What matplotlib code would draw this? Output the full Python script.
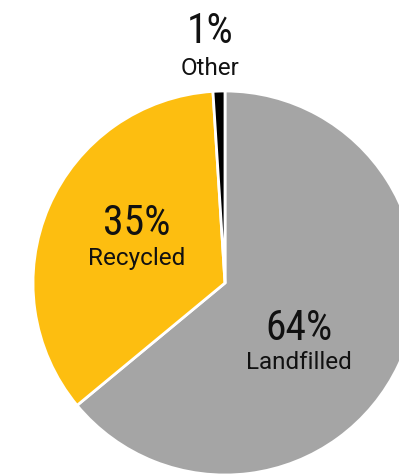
import matplotlib
matplotlib.use("Agg")
import matplotlib.pyplot as plt
from matplotlib import font_manager as fm

# Share of waste by destination
categories = ["Landfilled", "Recycled", "Other"]
shares = [64, 35, 1]
colors = ["#A5A5A5", "#FDBE10", "#000000"]

W, H, DPI = 399, 477, 100
fig = plt.figure(figsize=(W / DPI, H / DPI), dpi=DPI)

# pie centre and radius in pixels
cx, cy, r = 225, 284, 192
ax = fig.add_axes([(cx - r) / W, (H - cy - r) / H, 2 * r / W, 2 * r / H])

wedges, _ = ax.pie(shares, colors=colors, startangle=90, counterclock=False,
                   radius=1, center=(0, 0),
                   wedgeprops=dict(edgecolor="white", linewidth=2))
for w in wedges:
    w.set_clip_on(False)
ax.set_xlim(-1, 1)
ax.set_ylim(-1, 1)
ax.axis("off")


def narrow_font():
    for fam, stretch in [("Liberation Sans Narrow", "normal"),
                         ("Roboto Condensed", "normal"),
                         ("DejaVu Sans", "condensed")]:
        try:
            path = fm.findfont(fm.FontProperties(family=fam, stretch=stretch),
                               fallback_to_default=False)
            if "ondensed" in path or "arrow" in path:
                return fam, stretch, 30
        except Exception:
            pass
    return "Roboto", "normal", 27


num_fam, num_stretch, num_size = narrow_font()
lab_font = ["Roboto", "DejaVu Sans"]
txt_col = "#111111"


def px(x, y):
    return (x - cx) / r, (cy - y) / r


# (x centre, number baseline, label baseline) in pixels
label_pos = {
    "Landfilled": (299, 340, 369),
    "Recycled": (137, 235, 265),
    "Other": (210, 43, 75),
}

for cat, val in zip(categories, shares):
    x, yb_num, yb_lab = label_pos[cat]
    ax.text(*px(x, yb_num), f"{val}%", ha="center", va="baseline",
            fontsize=num_size, family=[num_fam, "DejaVu Sans"],
            fontstretch=num_stretch, color=txt_col, clip_on=False)
    ax.text(*px(x, yb_lab), cat, ha="center", va="baseline",
            fontsize=17.5, family=lab_font, color=txt_col, clip_on=False)

fig.savefig("out.png", dpi=DPI)
